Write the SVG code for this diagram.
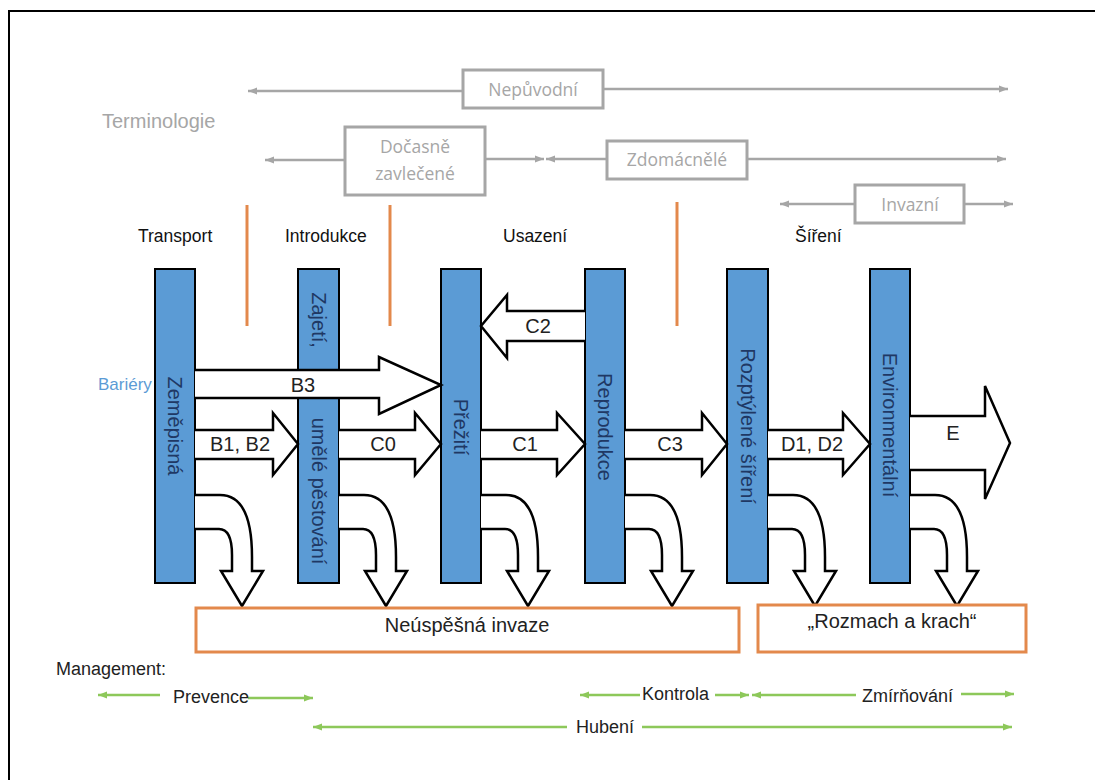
<svg xmlns="http://www.w3.org/2000/svg" width="1095" height="780" viewBox="0 0 1095 780">
<defs>
<marker id="ag" markerUnits="userSpaceOnUse" markerWidth="10" markerHeight="8" refX="9" refY="4" orient="auto"><path d="M0,0.5 L9,4 L0,7.5 Z" fill="#A6A6A6"/></marker>
<marker id="agr" markerUnits="userSpaceOnUse" markerWidth="10" markerHeight="8" refX="9" refY="4" orient="auto"><path d="M0,0.5 L9,4 L0,7.5 Z" fill="#8DC85A"/></marker>
<style>
.frame{fill:none;stroke:#000;stroke-width:2}
.gbox{fill:#fff;stroke:#A6A6A6;stroke-width:3}
.gl{stroke:#A6A6A6;stroke-width:2.5;fill:none;marker-end:url(#ag)}
.grl{stroke:#8DC85A;stroke-width:2.5;fill:none;marker-end:url(#agr)}
.gt{font-family:"Open Sans",sans-serif;font-size:17.5px;fill:#A6A6A6;text-anchor:middle}
.term{font-family:"Liberation Sans",Arial,sans-serif;font-size:20px;fill:#A6A6A6}
.bar{fill:#5B9BD5;stroke:#000;stroke-width:2}
.bt{font-family:"Liberation Sans",Arial,sans-serif;font-size:20px;fill:#1F3864;text-anchor:middle}
.arr{fill:#fff;stroke:#000;stroke-width:2.5;stroke-linejoin:miter}
.at{font-family:"Liberation Sans",Arial,sans-serif;font-size:20px;fill:#222;text-anchor:middle}
.st{font-family:"Liberation Sans",Arial,sans-serif;font-size:17.5px;fill:#111}
.ob{fill:#fff;stroke:#E3894C;stroke-width:3}
.ot{font-family:"Liberation Sans",Arial,sans-serif;font-size:20px;fill:#222;text-anchor:middle}
.orl{stroke:#E3894C;stroke-width:3}
.mt{font-family:"Liberation Sans",Arial,sans-serif;font-size:18px;fill:#222}
</style>
</defs>
<rect class="frame" x="9" y="11" width="1100" height="790"/>

<text class="term" x="102" y="128">Terminologie</text>
<text x="98" y="390" font-family="Liberation Sans, Arial, sans-serif" font-size="17" fill="#5B9BD5">Bariéry</text>

<g id="connectors">
<line class="gl" x1="463" y1="91" x2="248" y2="91"/>
<line class="gl" x1="603" y1="89" x2="1008" y2="89"/>
<line class="gl" x1="345" y1="160" x2="265" y2="160"/>
<line class="gl" x1="485" y1="159" x2="544" y2="159"/>
<line class="gl" x1="607" y1="159" x2="546" y2="159"/>
<line class="gl" x1="747" y1="159" x2="1006" y2="159"/>
<line class="gl" x1="855" y1="204" x2="780" y2="204"/>
<line class="gl" x1="964" y1="204" x2="1013" y2="204"/>
<line class="orl" x1="247" y1="205" x2="247" y2="326"/>
<line class="orl" x1="390" y1="205" x2="390" y2="326"/>
<line class="orl" x1="677" y1="202" x2="677" y2="326"/>
<line class="grl" x1="160" y1="695" x2="98" y2="695"/>
<line class="grl" x1="248" y1="698" x2="313" y2="698"/>
<line class="grl" x1="567" y1="727" x2="313" y2="727"/>
<line class="grl" x1="642" y1="727" x2="1012" y2="727"/>
<line class="grl" x1="640" y1="695" x2="580" y2="695"/>
<line class="grl" x1="715" y1="695" x2="749" y2="695"/>
<line class="grl" x1="856" y1="695" x2="752" y2="695"/>
<line class="grl" x1="961" y1="694" x2="1014" y2="694"/>
</g>

<g id="term-nepuvodni"><rect class="gbox" x="463" y="70" width="140" height="38"/><text class="gt" x="533" y="96">Nepůvodní</text></g>
<g id="term-docasne"><rect class="gbox" x="345" y="127" width="140" height="68"/><text class="gt" x="415" y="153">Dočasně</text><text class="gt" x="415" y="180">zavlečené</text></g>
<g id="term-zdomacnele"><rect class="gbox" x="607" y="141" width="140" height="38"/><text class="gt" x="677" y="166">Zdomácnělé</text></g>
<g id="term-invazni"><rect class="gbox" x="855" y="185" width="109" height="38"/><text class="gt" x="910" y="211">Invazní</text></g>

<g id="stages">
<text class="st" x="138" y="242">Transport</text>
<text class="st" x="285" y="242">Introdukce</text>
<text class="st" x="503" y="242">Usazení</text>
<text class="st" x="795" y="242">Šíření</text>
</g>

<g id="bar-zemepisna"><rect class="bar" x="155" y="269" width="40" height="314"/><text class="bt" transform="translate(175,426) rotate(90)" dy="7">Zeměpisná</text></g>
<g id="bar-zajeti"><rect class="bar" x="298" y="269" width="41" height="314"/><text class="bt" transform="translate(318.5,320) rotate(90)" dy="7">Zajetí,</text><text class="bt" transform="translate(318.5,491) rotate(90)" dy="7">umělé pěstování</text></g>
<g id="bar-preziti"><rect class="bar" x="441" y="269" width="40" height="314"/><text class="bt" transform="translate(461,427) rotate(90)" dy="7">Přežití</text></g>
<g id="bar-reprodukce"><rect class="bar" x="585" y="269" width="40" height="314"/><text class="bt" transform="translate(605,427) rotate(90)" dy="7">Reprodukce</text></g>
<g id="bar-rozptylene"><rect class="bar" x="727" y="269" width="41" height="314"/><text class="bt" transform="translate(747.5,426) rotate(90)" dy="7">Rozptýlené šíření</text></g>
<g id="bar-environmentalni"><rect class="bar" x="870" y="269" width="40" height="314"/><text class="bt" transform="translate(890,425) rotate(90)" dy="7">Environmentální</text></g>

<g id="arrows">
<path class="arr" d="M195,370 L379,370 L379,357 L441,385 L379,414 L379,398 L195,398"/>
<text class="at" x="303" y="392">B3</text>
<path class="arr" d="M195,430 L273,430 L273,413 L298,444 L273,475 L273,459 L195,459"/>
<text class="at" x="240" y="451">B1, B2</text>
<path class="arr" d="M339,430 L415,430 L415,413 L441,444 L415,475 L415,459 L339,459"/>
<text class="at" x="383" y="451">C0</text>
<path class="arr" d="M481,430 L557,430 L557,413 L585,444 L557,475 L557,459 L481,459"/>
<text class="at" x="525" y="451">C1</text>
<path class="arr" d="M585,311 L507,311 L507,295 L481,326 L507,358 L507,341 L585,341"/>
<text class="at" x="538" y="333">C2</text>
<path class="arr" d="M625,430 L702,430 L702,413 L727,444 L702,475 L702,459 L625,459"/>
<text class="at" x="670" y="451">C3</text>
<path class="arr" d="M768,430 L843,430 L843,413 L870,444 L843,475 L843,459 L768,459"/>
<text class="at" x="812" y="451">D1, D2</text>
<path class="arr" d="M910,416 L985,416 L985,386 L1010,443 L985,499 L985,470 L910,470"/>
<text class="at" x="953" y="440">E</text>
</g>

<g id="fail-arrows">
<path class="arr" d="M195,495 L220,495 C243,495 252,520 252,557 L252,571 L263,571 L242,606 L221,571 L232,571 L232,555 C232,538 228,529 219,529 L195,529"/>
<path class="arr" d="M339,495 L364,495 C387,495 396,520 396,557 L396,571 L407,571 L386,606 L365,571 L376,571 L376,555 C376,538 372,529 363,529 L339,529"/>
<path class="arr" d="M481,495 L506,495 C529,495 538,520 538,557 L538,571 L549,571 L528,606 L507,571 L518,571 L518,555 C518,538 514,529 505,529 L481,529"/>
<path class="arr" d="M625,495 L650,495 C673,495 682,520 682,557 L682,571 L693,571 L672,606 L651,571 L662,571 L662,555 C662,538 658,529 649,529 L625,529"/>
<path class="arr" d="M768,495 L793,495 C816,495 825,520 825,557 L825,571 L836,571 L815,606 L794,571 L805,571 L805,555 C805,538 801,529 792,529 L768,529"/>
<path class="arr" d="M910,495 L935,495 C958,495 967,520 967,557 L967,571 L978,571 L957,606 L936,571 L947,571 L947,555 C947,538 943,529 934,529 L910,529"/>
</g>

<g id="box-neuspesna"><rect class="ob" x="196" y="608" width="543" height="44"/><text class="ot" x="467" y="632">Neúspěšná invaze</text></g>
<g id="box-rozmach"><rect class="ob" x="758" y="605" width="268" height="47"/><text class="ot" x="892" y="628">„Rozmach a krach“</text></g>

<g id="management">
<text class="mt" x="56" y="675">Management:</text>
<text class="mt" x="173" y="703">Prevence</text>
<text class="mt" x="642" y="700">Kontrola</text>
<text class="mt" x="862" y="702">Zmírňování</text>
<text class="mt" x="576" y="733">Hubení</text>
</g>
</svg>
